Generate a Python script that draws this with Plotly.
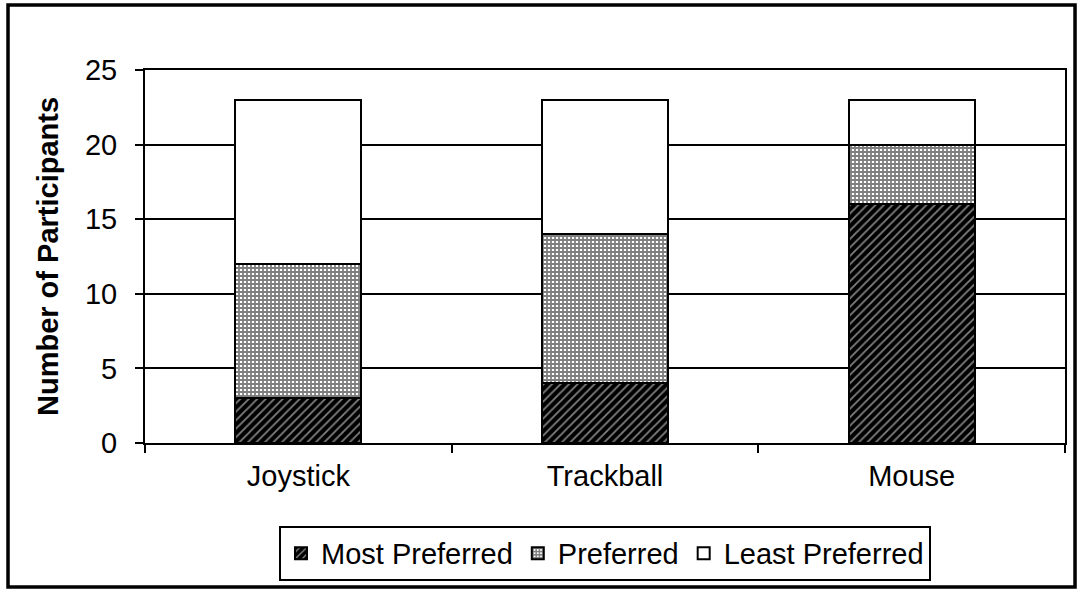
import plotly.graph_objects as go

categories = ["Joystick", "Trackball", "Mouse"]
most_preferred = [3, 4, 16]
preferred = [9, 10, 4]
least_preferred = [11, 9, 3]
y_ticks = [0, 5, 10, 15, 20, 25]

FONT = "Arial, Liberation Sans, sans-serif"
FS = 29

fig = go.Figure()
fig.add_trace(go.Bar(
    name="Most Preferred", x=categories, y=most_preferred,
    marker=dict(color="black", line=dict(color="black", width=2),
                pattern=dict(shape="/", fgcolor="white", bgcolor="black",
                             size=6, solidity=0.3, fillmode="overlay")),
))
fig.add_trace(go.Bar(
    name="Preferred", x=categories, y=preferred,
    marker=dict(color="white", line=dict(color="black", width=2),
                pattern=dict(shape="+", fgcolor="black", bgcolor="white",
                             size=4, solidity=0.7, fillmode="overlay")),
))
fig.add_trace(go.Bar(
    name="Least Preferred", x=categories, y=least_preferred,
    marker=dict(color="white", line=dict(color="black", width=2)),
))

fig.update_layout(
    barmode="stack",
    bargap=0.59,
    width=1081, height=594,
    margin=dict(l=145, r=16, t=70, b=151),
    paper_bgcolor="white",
    plot_bgcolor="white",
    font=dict(family=FONT, size=FS, color="black"),
    showlegend=True,
    legend=dict(
        orientation="h", x=0.5, xanchor="center", y=-0.222, yanchor="top",
        traceorder="normal", bordercolor="black", borderwidth=2,
        font=dict(family=FONT, size=FS, color="black"),
        itemwidth=30,
    ),
    xaxis=dict(
        showline=True, linecolor="black", linewidth=2, mirror=True,
        ticks="outside", tickson="boundaries", ticklen=8, tickcolor="black",
        tickwidth=1.5, ticklabelstandoff=6,
        tickfont=dict(family=FONT, size=FS, color="black"),
    ),
    yaxis=dict(
        range=[0, 25], tickvals=y_ticks,
        showline=True, linecolor="black", linewidth=2, mirror=True,
        showgrid=True, gridcolor="black", gridwidth=1.5,
        ticks="outside", ticklen=8, tickcolor="black", tickwidth=1.5,
        ticklabelstandoff=12,
        tickfont=dict(family=FONT, size=FS, color="black"),
        title=dict(text="<b>Number of Participants</b>", standoff=18,
                   font=dict(family=FONT, size=FS, color="black")),
        zeroline=False,
    ),
    shapes=[dict(
        type="rect", xref="paper", yref="paper",
        x0=-0.1489, x1=1.0109, y0=-0.386, y1=1.1743,
        line=dict(color="black", width=3.5), fillcolor="rgba(0,0,0,0)",
        layer="above",
    )],
)

fig.write_html("out.html", config={"displayModeBar": False},
               post_script="document.body.style.margin='0';document.body.style.overflow='hidden';")
